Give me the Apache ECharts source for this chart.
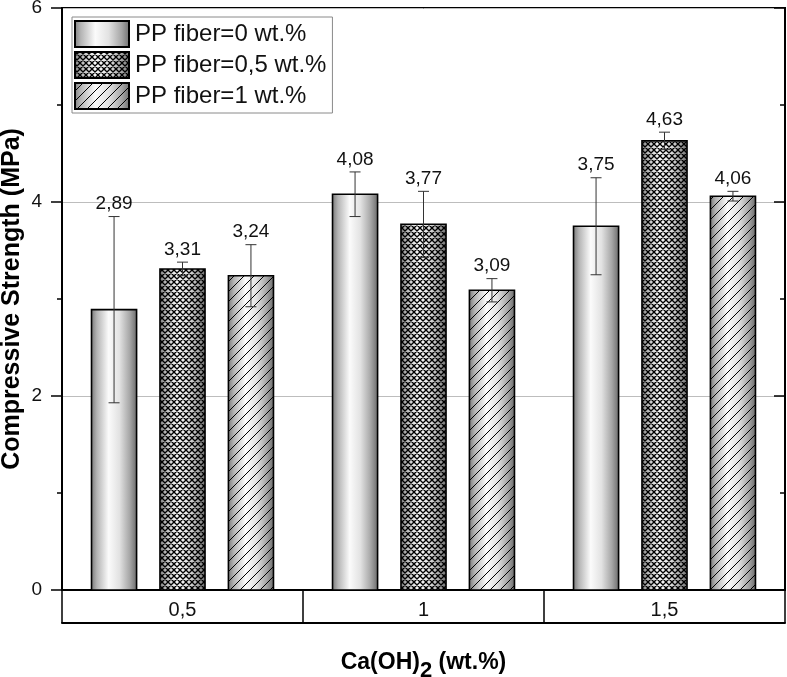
<!DOCTYPE html>
<html>
<head>
<meta charset="utf-8">
<script src="https://cdn.jsdelivr.net/npm/echarts@6/dist/echarts.min.js"></script>
<style>
html,body{margin:0;padding:0;background:#fff;}
#chart{width:787px;height:677px;}
</style>
</head>
<body>
<div id="chart"></div>
<script>
// ---- data ----
var categories = ['0,5', '1', '1,5'];
var seriesNames = ['PP fiber=0 wt.%', 'PP fiber=0,5 wt.%', 'PP fiber=1 wt.%'];
var fiber0 = [2.89, 4.08, 3.75];
var fiber0Err = [0.96, 0.23, 0.50];
var fiber05 = [3.31, 3.77, 4.63];
var fiber05Err = [0.07, 0.34, 0.09];
var fiber1 = [3.24, 3.09, 4.06];
var fiber1Err = [0.32, 0.12, 0.05];
var yTicks = [0, 2, 4, 6];

var values = [fiber0, fiber05, fiber1];
var errors = [fiber0Err, fiber05Err, fiber1Err];

var FONT = '"Liberation Sans", Arial, Helvetica, sans-serif';
var gradStops = [
  {offset: 0, color: '#7c7c7c'},
  {offset: 0.12, color: '#b4b4b4'},
  {offset: 0.38, color: '#fbfbfb'},
  {offset: 0.62, color: '#e2e2e2'},
  {offset: 0.85, color: '#a6a6a6'},
  {offset: 1, color: '#6e6e6e'}
];

function makeTile(kind) {
  if (kind === 'none') return null;
  var P = kind === 'cross' ? 6 : 10;
  var c = document.createElement('canvas');
  c.width = P; c.height = P;
  var ctx = c.getContext('2d');
  ctx.strokeStyle = '#000';
  ctx.lineWidth = kind === 'cross' ? 1.35 : 1;
  ctx.beginPath();
  for (var k = -1; k <= 1; k++) {
    ctx.moveTo(k * P, P); ctx.lineTo(k * P + P, 0);
    if (kind === 'cross') { ctx.moveTo(k * P, 0); ctx.lineTo(k * P + P, P); }
  }
  ctx.stroke();
  return c;
}
var tiles = [makeTile('none'), makeTile('cross'), makeTile('diag')];

function legendIcon(i) {
  var W = 56, H = 28;
  var c = document.createElement('canvas');
  c.width = W; c.height = H;
  var ctx = c.getContext('2d');
  var g = ctx.createLinearGradient(0, 0, W, 0);
  gradStops.forEach(function (s) { g.addColorStop(s.offset, s.color); });
  ctx.fillStyle = g; ctx.fillRect(0, 0, W, H);
  if (tiles[i]) {
    ctx.fillStyle = ctx.createPattern(tiles[i], 'repeat');
    ctx.fillRect(0, 0, W, H);
  }
  ctx.strokeStyle = '#000'; ctx.lineWidth = 2;
  ctx.strokeRect(1, 1, W - 2, H - 2);
  return 'image://' + c.toDataURL();
}

var BAR_FRAC = 0.187, OFFSET_FRAC = 0.284;

function makeSeries(si) {
  var data = categories.map(function (c, ci) { return [ci, values[si][ci], errors[si][ci]]; });
  return {
    type: 'custom',
    name: seriesNames[si],
    xAxisIndex: 0, yAxisIndex: 0,
    itemStyle: {color: '#bbb'},
    data: data,
    z: 3,
    renderItem: function (params, api) {
      var ci = api.value(0), v = api.value(1), e = api.value(2);
      var base = api.coord([ci, 0]);
      var top = api.coord([ci, v]);
      var hi = api.coord([ci, v + e]);
      var lo = api.coord([ci, v - e]);
      var band = api.size([1, 0])[0];
      var w = band * BAR_FRAC;
      var cx = base[0] + (si - 1) * band * OFFSET_FRAC;
      var shape = {x: cx - w / 2, y: top[1], width: w, height: base[1] - top[1]};
      var children = [{
        type: 'rect', shape: shape,
        style: {fill: new echarts.graphic.LinearGradient(0, 0, 1, 0, gradStops), stroke: null}
      }];
      if (tiles[si]) {
        children.push({type: 'rect', shape: shape, style: {fill: {image: tiles[si], repeat: 'repeat'}, stroke: null}});
      }
      children.push({type: 'rect', shape: shape, style: {fill: null, stroke: '#000', lineWidth: 1.6}});
      var cap = 5.5;
      var errStyle = {stroke: '#333', lineWidth: 1};
      children.push({type: 'line', shape: {x1: cx, y1: hi[1], x2: cx, y2: lo[1]}, style: errStyle});
      children.push({type: 'line', shape: {x1: cx - cap, y1: hi[1], x2: cx + cap, y2: hi[1]}, style: errStyle});
      children.push({type: 'line', shape: {x1: cx - cap, y1: lo[1], x2: cx + cap, y2: lo[1]}, style: errStyle});
      children.push({
        type: 'text',
        style: {
          text: v.toFixed(2).replace('.', ','),
          x: cx, y: hi[1] - 3,
          align: 'center', verticalAlign: 'bottom',
          fontSize: 19, fontFamily: FONT, fill: '#111'
        }
      });
      return {type: 'group', children: children};
    }
  };
}

var chart = echarts.init(document.getElementById('chart'), null, {renderer: 'canvas'});
chart.setOption({
  animation: false,
  backgroundColor: '#fff',
  grid: {left: 62, right: 2, top: 8, bottom: 87, show: true, borderColor: '#000', borderWidth: 2,
         backgroundColor: 'transparent', containLabel: false, outerBoundsMode: 'none'},
  legend: {
    orient: 'vertical', left: 72, top: 17,
    itemWidth: 56, itemHeight: 28, itemGap: 3,
    padding: [3, 6, 3, 2],
    borderColor: '#8a8a8a', borderWidth: 1, backgroundColor: '#fff',
    textStyle: {fontSize: 24, fontFamily: FONT, color: '#111'},
    data: seriesNames.map(function (n, i) { return {name: n, icon: legendIcon(i)}; }),
    selectedMode: false
  },
  xAxis: [{
    type: 'category', data: categories, position: 'bottom',
    axisLine: {show: true, onZero: false, lineStyle: {color: '#000', width: 2}},
    axisTick: {show: true, interval: 0, length: 33, lineStyle: {color: '#000', width: 1.5}},
    axisLabel: {fontSize: 20, margin: 10, color: '#111', fontFamily: FONT},
    splitLine: {show: false},
    name: '{a|Ca(OH)}{s|2}{a| (wt.%)}',
    nameLocation: 'middle', nameGap: 54,
    nameTextStyle: {
      rich: {
        a: {fontSize: 23, fontWeight: 'bold', fontFamily: FONT, color: '#000', lineHeight: 30},
        s: {fontSize: 22, fontWeight: 'bold', fontFamily: FONT, color: '#000', lineHeight: 38, verticalAlign: 'bottom'}
      }
    }
  }, {
    type: 'category', data: categories, position: 'bottom', offset: 33, show: true,
    axisLine: {show: true, onZero: false, lineStyle: {color: '#000', width: 2}},
    axisTick: {show: false}, axisLabel: {show: false}, splitLine: {show: false}
  }],
  yAxis: [{
    type: 'value', min: yTicks[0], max: yTicks[yTicks.length - 1], interval: yTicks[1] - yTicks[0],
    position: 'left',
    axisLine: {show: true, lineStyle: {color: '#000', width: 2}},
    axisTick: {show: true, length: 11, lineStyle: {color: '#000', width: 1.5}},
    minorTick: {show: true, splitNumber: 2, length: 5, lineStyle: {color: '#000', width: 1.5}},
    splitLine: {show: true, lineStyle: {color: '#bdbdbd', width: 1}},
    axisLabel: {fontSize: 19, margin: 20, color: '#111', fontFamily: FONT},
    name: 'Compressive Strength (MPa)', nameLocation: 'middle', nameGap: 37, nameRotate: 90,
    nameMoveOverlap: false,
    nameTextStyle: {fontSize: 25, fontWeight: 'bold', fontFamily: FONT, color: '#000'}
  }, {
    type: 'value', min: yTicks[0], max: yTicks[yTicks.length - 1], interval: yTicks[1] - yTicks[0],
    position: 'right',
    axisLine: {show: true, lineStyle: {color: '#000', width: 2}},
    axisTick: {show: true, inside: true, length: 11, lineStyle: {color: '#000', width: 1.5}},
    minorTick: {show: true, splitNumber: 2, length: 5, lineStyle: {color: '#000', width: 1.5}},
    splitLine: {show: false}, axisLabel: {show: false}
  }],
  series: [makeSeries(0), makeSeries(1), makeSeries(2)]
});
</script>
</body>
</html>
